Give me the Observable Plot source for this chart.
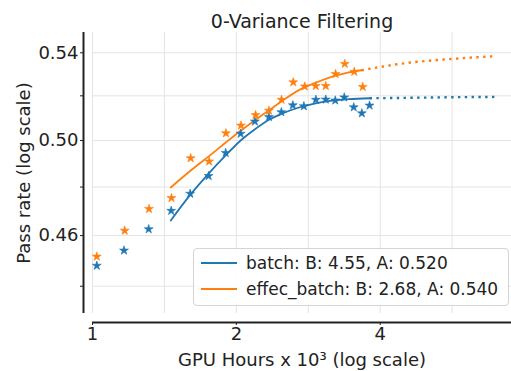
<!DOCTYPE html>
<html>
<head>
<meta charset="utf-8">
<script src="https://cdn.jsdelivr.net/npm/d3@7"></script>
<script src="https://cdn.jsdelivr.net/npm/@observablehq/plot@0.6"></script>
<style>
  html, body { margin: 0; padding: 0; background: #fff; }
  #wrap { position: relative; width: 511px; height: 371px; font-family: "DejaVu Sans", sans-serif; color: #222; }
  #legend { position: absolute; left: 193px; top: 248px; width: 314px; height: 56px;
            border: 1px solid #d4d4d4; border-radius: 4px; background: rgba(255,255,255,0.85); }
  .row { position: absolute; left: 0; height: 20px; line-height: 20px; font-size: 17px; white-space: nowrap; }
  .row svg { position: absolute; left: 7px; top: 8px; }
  .row span { position: absolute; left: 52px; top: 0; }
</style>
</head>
<body>
<div id="wrap"><div id="legend"></div></div>
<script>
// ---- data ----
const seriesNames = ["batch", "effec_batch"];
const seriesColors = ["#1f77b4", "#ff7f0e"];
const fitB = ["4.55", "2.68"];
const fitA = ["0.520", "0.540"];

const batchX = [1.021, 1.164, 1.311, 1.461, 1.601, 1.750, 1.900, 2.042, 2.187, 2.340, 2.484, 2.626, 2.769, 2.934, 3.077, 3.221, 3.364, 3.521, 3.661, 3.800];
const batchY = [0.4480, 0.4540, 0.4626, 0.4701, 0.4772, 0.4847, 0.4946, 0.5030, 0.5084, 0.5104, 0.5126, 0.5157, 0.5153, 0.5182, 0.5183, 0.5179, 0.5193, 0.5148, 0.5121, 0.5156];

const effecX = [1.021, 1.168, 1.313, 1.463, 1.605, 1.754, 1.902, 2.045, 2.194, 2.340, 2.486, 2.631, 2.781, 2.932, 3.077, 3.226, 3.373, 3.530, 3.677];
const effecY = [0.4516, 0.4620, 0.4709, 0.4754, 0.4923, 0.4909, 0.5032, 0.5066, 0.5113, 0.5133, 0.5182, 0.5262, 0.5243, 0.5245, 0.5245, 0.5301, 0.5348, 0.5311, 0.5241];

const batchFitX = [1.458, 1.598, 1.746, 1.895, 2.042, 2.195, 2.340, 2.488, 2.704, 2.930, 3.175, 3.439, 3.800];
const batchFitY = [0.4661, 0.4765, 0.4855, 0.4933, 0.5000, 0.5052, 0.5092, 0.5119, 0.5147, 0.5166, 0.5178, 0.5185, 0.5189];
const batchExtX = [3.800, 4.271, 5.016, 5.888, 6.935];
const batchExtY = [0.5189, 0.5190, 0.5192, 0.5194, 0.5195];

const effecFitX = [1.458, 1.605, 1.753, 1.900, 2.042, 2.195, 2.340, 2.488, 2.704, 2.930, 3.175, 3.439, 3.656];
const effecFitY = [0.4798, 0.4870, 0.4932, 0.4991, 0.5043, 0.5092, 0.5134, 0.5175, 0.5226, 0.5260, 0.5288, 0.5308, 0.5318];
const effecExtX = [3.656, 3.942, 4.271, 4.628, 5.016, 5.433, 5.888, 6.381, 6.968];
const effecExtY = [0.5318, 0.5331, 0.5344, 0.5354, 0.5362, 0.5368, 0.5374, 0.5379, 0.5384];

const xTicks = [1, 2, 4];
const xGrid = [1, 1.4142, 2, 2.8284, 4, 5.6569];
const yTicks = [0.44, 0.46, 0.48, 0.50, 0.52, 0.54];
const yTickLabels = [0.46, 0.50, 0.54];
const xDomain = [1, 7.53];
const yDomain = [0.4296, 0.5497];

const title = "0-Variance Filtering";
const xLabel = "GPU Hours x 10³ (log scale)";
const yLabel = "Pass rate (log scale)";

// ---- build tables ----
const zip = (xs, ys) => xs.map((x, i) => ({x, y: ys[i]}));
const batchPts = zip(batchX, batchY), effecPts = zip(effecX, effecY);
const batchFit = zip(batchFitX, batchFitY), effecFit = zip(effecFitX, effecFitY);
const batchExt = zip(batchExtX, batchExtY), effecExt = zip(effecExtX, effecExtY);

const ink = "#222";
const dotted = {strokeWidth: 2.4, strokeDasharray: "2.4,4.4", strokeLinecap: "butt"};

const chart = Plot.plot({
  width: 511, height: 371,
  marginLeft: 92, marginRight: 0, marginTop: 32, marginBottom: 58,
  style: {fontFamily: "DejaVu Sans, sans-serif", fontSize: "18px", color: ink, background: "transparent", overflow: "visible"},
  x: {type: "log", domain: xDomain},
  y: {type: "log", domain: yDomain},
  marks: [
    Plot.gridX(xGrid, {stroke: "#e4e4e4", strokeOpacity: 1, strokeWidth: 1}),
    Plot.gridY(yTicks, {stroke: "#e4e4e4", strokeOpacity: 1, strokeWidth: 1}),
    Plot.ruleX([xDomain[0]], {dx: -9, stroke: ink, strokeWidth: 2}),
    Plot.ruleY([yDomain[0]], {dy: 9, stroke: ink, strokeWidth: 2}),
    Plot.axisY({ticks: yTicks, tickFormat: d => yTickLabels.includes(d) ? d.toFixed(2) : "", dx: -9, tickSize: 3, tickPadding: 2, label: null, stroke: ink, fill: ink}),
    Plot.axisX({ticks: xTicks, tickFormat: d => String(d), dy: 9, tickSize: 3, tickPadding: 2, label: null, stroke: ink, fill: ink}),
    Plot.line(batchFit, {x: "x", y: "y", stroke: seriesColors[0], strokeWidth: 1.8, curve: "monotone-x"}),
    Plot.line(effecFit, {x: "x", y: "y", stroke: seriesColors[1], strokeWidth: 1.8, curve: "monotone-x"}),
    Plot.line(batchExt, {x: "x", y: "y", stroke: seriesColors[0], ...dotted}),
    Plot.line(effecExt, {x: "x", y: "y", stroke: seriesColors[1], ...dotted}),
    Plot.dot(batchPts, {x: "x", y: "y", symbol: "star", r: 2.8, fill: seriesColors[0], stroke: seriesColors[0], strokeWidth: 0.6}),
    Plot.dot(effecPts, {x: "x", y: "y", symbol: "star", r: 2.8, fill: seriesColors[1], stroke: seriesColors[1], strokeWidth: 0.6}),
    Plot.text([title], {frameAnchor: "top", lineAnchor: "bottom", dy: -5, fontSize: 19, fill: ink}),
    Plot.text([xLabel], {frameAnchor: "bottom", lineAnchor: "bottom", dy: 52, fontSize: 18, fill: ink}),
    Plot.text([yLabel], {frameAnchor: "left", textAnchor: "middle", lineAnchor: "middle", rotate: -90, dx: -68, fontSize: 18, fill: ink})
  ]
});

const wrap = document.getElementById("wrap");
wrap.insertBefore(chart, wrap.firstChild);

// ---- legend ----
const legend = document.getElementById("legend");
seriesNames.forEach((name, i) => {
  const row = document.createElement("div");
  row.className = "row";
  row.style.top = (4 + i * 26) + "px";
  row.style.width = "100%";
  row.innerHTML = `<svg width="36" height="4"><line x1="0" x2="36" y1="2" y2="2" stroke="${seriesColors[i]}" stroke-width="1.8"/></svg><span>${name}: B: ${fitB[i]}, A: ${fitA[i]}</span>`;
  legend.appendChild(row);
});
</script>
</body>
</html>
